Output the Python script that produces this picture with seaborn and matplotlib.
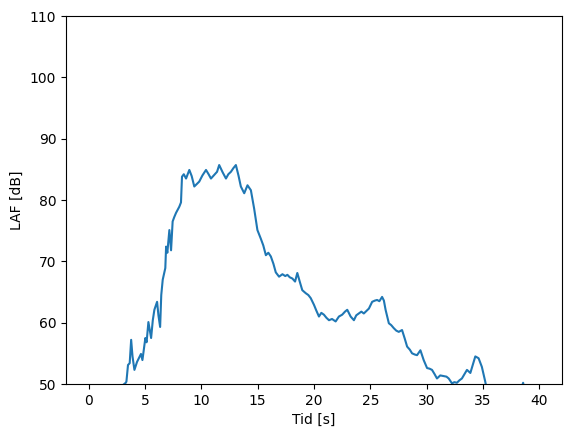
import pandas as pd
import matplotlib
matplotlib.use("Agg")
import matplotlib.pyplot as plt
import seaborn as sns

# time [s] and level [dB]
tid = [0.0, 1.0, 2.0, 2.9, 3.1, 3.3, 3.36, 3.5, 3.65, 3.78, 3.9, 4.07, 4.3, 4.51, 4.65,
       4.78, 5.04, 5.15, 5.31, 5.45, 5.55, 5.7, 5.84, 6.08, 6.2, 6.35, 6.45, 6.58, 6.81,
       6.88, 6.99, 7.17, 7.32, 7.46, 7.6, 7.76, 8.05, 8.2, 8.29, 8.45, 8.65, 8.94, 9.15,
       9.38, 9.6, 9.82, 10.1, 10.42, 10.65, 10.86, 11.15, 11.4, 11.59, 11.9, 12.19, 12.4,
       12.63, 12.85, 13.07, 13.3, 13.51, 13.81, 14.1, 14.4, 14.69, 14.98, 15.28, 15.5,
       15.73, 15.95, 16.17, 16.4, 16.61, 16.9, 17.2, 17.45, 17.64, 17.85, 18.08, 18.32,
       18.52, 18.75, 18.96, 19.27, 19.5, 19.71, 20.0, 20.2, 20.44, 20.65, 20.88, 21.1,
       21.33, 21.6, 21.92, 22.21, 22.5, 22.75, 22.95, 23.25, 23.54, 23.75, 23.98, 24.2,
       24.42, 24.65, 24.87, 25.16, 25.4, 25.6, 25.8, 26.04, 26.2, 26.35, 26.64, 26.85,
       27.08, 27.3, 27.52, 27.81, 28.05, 28.26, 28.5, 28.7, 28.95, 29.14, 29.44, 29.73,
       30.03, 30.25, 30.47, 30.7, 30.91, 31.2, 31.5, 31.75, 31.95, 32.24, 32.45, 32.68,
       32.9, 33.12, 33.35, 33.57, 33.87, 34.1, 34.31, 34.6, 34.89, 35.19, 35.34, 36.0,
       37.0, 38.0, 38.55, 38.7, 39.5, 40.0]
laf = [45.5, 44.8, 46.2, 49.3, 49.9, 50.2, 50.4, 53.1, 53.4, 57.2, 54.5, 52.3, 53.6, 54.4, 54.9,
       53.9, 57.5, 56.8, 60.1, 58.6, 57.5, 60.4, 62.1, 63.4, 61.2, 59.3, 64.5, 67.0, 68.9,
       72.4, 71.4, 75.1, 71.8, 76.5, 77.2, 77.9, 78.9, 79.6, 83.8, 84.2, 83.5, 84.9, 83.9,
       82.2, 82.6, 83.0, 84.0, 84.9, 84.2, 83.5, 84.1, 84.6, 85.7, 84.5, 83.5, 84.2,
       84.6, 85.2, 85.7, 84.0, 82.2, 81.1, 82.4, 81.6, 78.6, 75.1, 73.7, 72.6,
       71.0, 71.4, 70.8, 69.6, 68.2, 67.5, 67.9, 67.6, 67.8, 67.4, 67.2, 66.7,
       68.1, 66.6, 65.3, 64.8, 64.5, 64.0, 62.9, 62.0, 61.0, 61.6, 61.3, 60.8,
       60.4, 60.6, 60.2, 61.0, 61.3, 61.8, 62.1, 61.0, 60.4, 61.2, 61.5, 61.8,
       61.5, 61.9, 62.3, 63.4, 63.6, 63.7, 63.5, 64.2, 63.6, 62.1, 59.9, 59.6,
       59.1, 58.7, 58.5, 58.8, 57.4, 56.1, 55.6, 55.0, 54.8, 54.7, 55.5, 53.9,
       52.6, 52.5, 52.3, 51.6, 50.9, 51.4, 51.3, 51.2, 50.9, 50.1, 50.3, 50.2,
       50.6, 50.9, 51.6, 52.3, 51.8, 53.2, 54.5, 54.2, 52.8, 50.4, 49.0, 45.2,
       44.1, 46.8, 50.2, 48.8, 46.0, 45.3]

df = pd.DataFrame({"tid": tid, "laf": laf})

fig = plt.figure(figsize=(5.71, 4.38), dpi=100)
ax = fig.add_axes([66 / 571, 54 / 438, 496 / 571, 368 / 438])

sns.lineplot(data=df, x="tid", y="laf", ax=ax, color="tab:blue", linewidth=1.5)

ax.set_ylim(50, 110)
ax.set_xlim(-2, 42)
ax.set_xticks(range(0, 45, 5))
ax.set_xlabel("Tid [s]")
ax.set_ylabel("LAF [dB]")

fig.savefig("out.png", dpi=100)
